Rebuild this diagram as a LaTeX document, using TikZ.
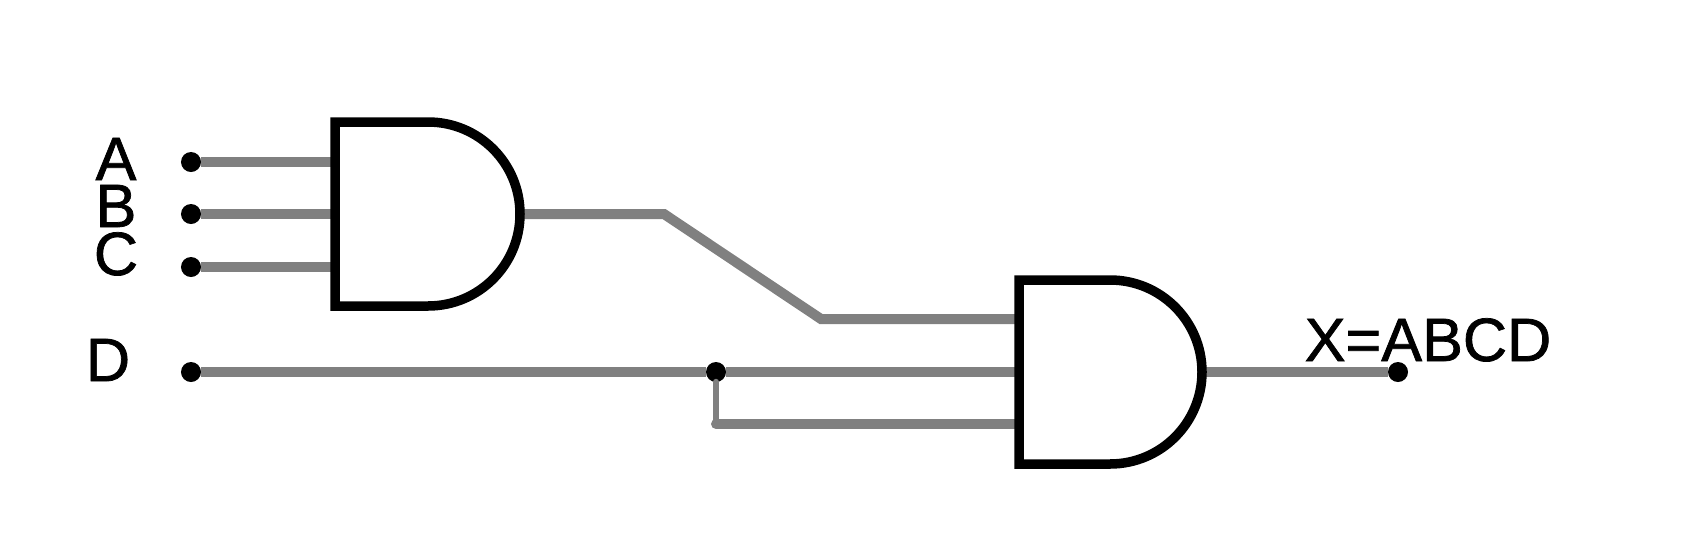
\documentclass[tikz,border=0pt]{standalone}
\usepackage{fontspec}
\setmainfont[FakeBold=1.2]{Liberation Sans}
\usetikzlibrary{calc}
\definecolor{wiregray}{rgb}{0.5,0.5,0.5}

\begin{document}
\begin{tikzpicture}[x=0.01cm, y=-0.01cm]
\tikzset{pin/.style={draw=none,circle,fill=black,minimum size=0.2cm,inner sep=0pt,outer sep=0pt}}
\tikzset{wire/.style={draw=wiregray,line width=0.1cm}}
\tikzset{thinwire/.style={draw=wiregray,line width=0.065cm,line cap=round}}
\tikzset{gate/.style={draw=black,line width=0.095cm,fill=white,miter limit=10}}
\tikzset{lbl/.style={anchor=base,inner sep=0pt,font=\fontsize{17.4pt}{20pt}\selectfont}}

\useasboundingbox (0,0) rectangle (1706,536);

%% Inputs
\node[pin] at (191, 162) (a) {};
\node[pin] at (191, 214) (b) {};
\node[pin] at (191, 267) (c) {};
\node[pin] at (191, 372) (d) {};

\node[lbl] at (116, 180) (la) {A};
\node[lbl] at (116, 227) (lb) {B};
\node[lbl] at (116, 275) (lc) {C};
\node[lbl] at (108, 381) (ld) {D};

%% First gate
\coordinate (g1a) at (335, 162);
\coordinate (g1b) at (335, 214);
\coordinate (g1c) at (335, 267);
\coordinate (g1out) at (520, 214);

%% Second gate
\coordinate (g2a) at (1019, 319);
\coordinate (g2b) at (1019, 372);
\coordinate (g2c) at (1019, 424);
\coordinate (g2out) at (1202, 372);

\coordinate (bend1) at (664, 214);
\coordinate (bend2) at (821, 319);
\coordinate (bend3) at (716, 424);

\node[pin] at (716, 372) (j) {};
\node[pin] at (1398, 372) (x) {};

  \draw[wire] (a) -- (g1a);
  \draw[wire] (b) -- (g1b);
  \draw[wire] (c) -- (g1c);
  \draw[wire] (d) -- (j);
  \draw[wire] (j) -- (g2b);
  \draw[wire] (g1out) -- (bend1) -- (bend2) -- (g2a);
  \draw[thinwire] (j) -- (bend3);
  \draw[wire, line cap=round] (bend3) -- (g2c);
  \draw[wire] (g2out) -- (x);

\draw[gate] (335, 122) -- (428, 122) arc (-90:90:92) -- (335, 306) -- cycle;
\draw[gate] (1019, 280) -- (1110, 280) arc (-90:90:92) -- (1019, 464) -- cycle;

\node[lbl] at (1428, 361) (lx) {X=ABCD};

\end{tikzpicture}
\end{document}
